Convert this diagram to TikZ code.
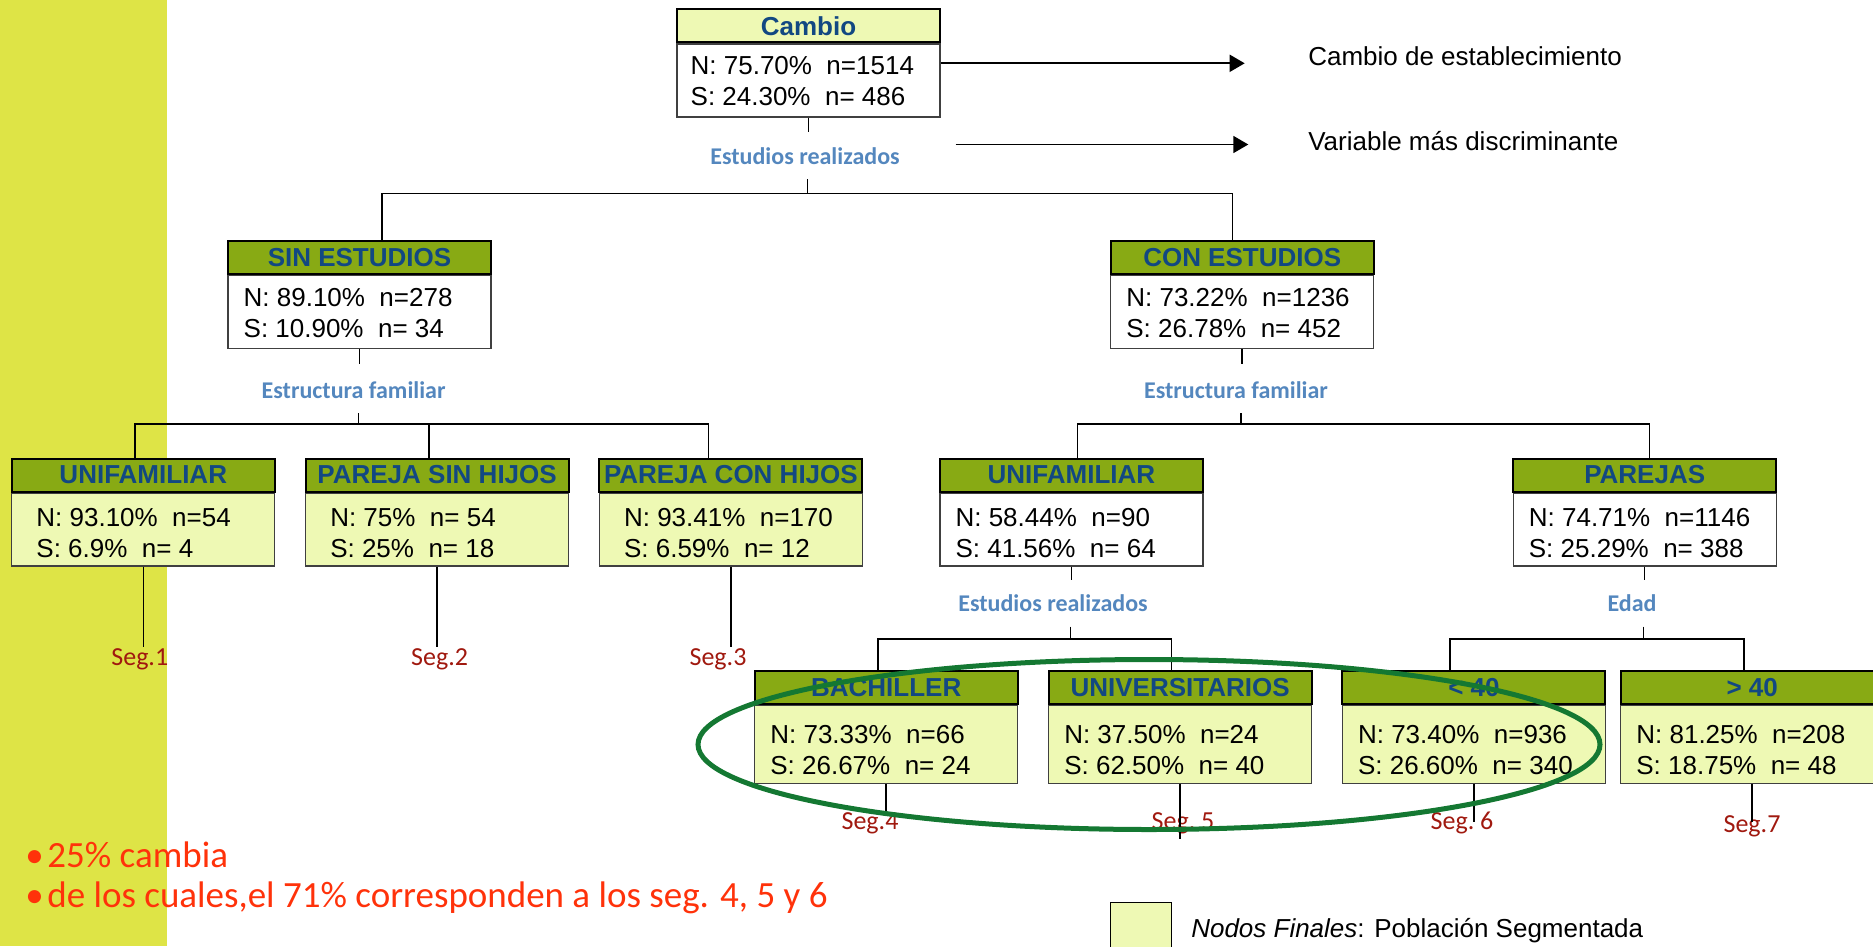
\documentclass[tikz,border=0pt]{standalone}
\usepackage{fontspec}
\setmainfont{Liberation Sans}
\newfontfamily\calibri{Carlito}
\usetikzlibrary{arrows.meta}

\definecolor{band}{RGB}{222,228,70}
\definecolor{olive}{RGB}{136,170,20}
\definecolor{pale}{RGB}{238,249,180}
\definecolor{hdtext}{RGB}{18,72,130}
\definecolor{varblue}{RGB}{84,135,190}
\definecolor{segred}{RGB}{160,25,15}
\definecolor{note}{RGB}{255,50,10}
\definecolor{ring}{RGB}{20,120,50}

% header strip + body + two lines of statistics
\newcommand{\treebox}[8]{%
  \node[hdr] (#1-h) at (#2,#3) {#4};
  \node[#7] (#1) at (#1-h.south) {};
  \node[stats] (#1-t) at ([shift={(#8)}]#1.west) {#5\\#6};
}

\begin{document}
\begin{tikzpicture}[x=0.75pt,y=-0.75pt,
  hdr/.style={draw=black, line width=1.5pt, fill=olive, minimum width=197.25pt,
    minimum height=24.75pt, inner sep=0pt, anchor=north west,
    font=\fontsize{19.5pt}{23pt}\selectfont\bfseries, text=hdtext},
  body/.style={draw=black!75, line width=0.9pt, fill=white, minimum width=197.25pt,
    minimum height=54.7pt, inner sep=0pt, anchor=north},
  bodytall/.style={body, minimum height=58.2pt},
  final/.style={body, fill=pale},
  finaltall/.style={bodytall, fill=pale},
  stats/.style={anchor=west, align=left, inner sep=0pt,
    font=\fontsize{19.5pt}{23.5pt}\selectfont},
  varlab/.style={font=\calibri\bfseries\fontsize{18pt}{20pt}\selectfont,
    text=varblue, inner sep=0pt},
  seglab/.style={font=\calibri\fontsize{19.5pt}{22pt}\selectfont,
    text=segred, inner sep=0pt},
  note/.style={font=\calibri\fontsize{27.75pt}{30pt}\selectfont,
    text=note, inner sep=0pt, anchor=west},
  plain/.style={font=\fontsize{19.5pt}{23pt}\selectfont, inner sep=0pt, anchor=west},
  link/.style={line width=1.1pt, black},
  pointer/.style={line width=1.3pt, -{Triangle[length=11.25pt, width=12.75pt]}}
]
\useasboundingbox (0,0) rectangle (1873,946);
\clip (0,0) rectangle (1873,946);

% left side band
\fill[band] (0,0) rectangle (167,946);

% ---- boxes ----
\treebox{cambio}{676}{8.4}{Cambio}{N: 75.70\%\ \ n=1514}{S: 24.30\%\ \ n=\ 486}{body}{14,0.6}
\path (cambio-h) node[hdr, anchor=center, fill=pale] {Cambio};

\treebox{sin}{227}{240.1}{SIN ESTUDIOS}{N: 89.10\%\ \ n=278}{S: 10.90\%\ \ n=\ 34}{body}{16,1.2}
\treebox{con}{1109.7}{240.1}{CON ESTUDIOS}{N: 73.22\%\ \ n=1236}{S: 26.78\%\ \ n=\ 452}{body}{16,1.2}

\treebox{unil}{10.75}{457.5}{UNIFAMILIAR}{N: 93.10\%\ \ n=54}{S: 6.9\%\ \ n=\ 4}{final}{25,3.6}
\treebox{psh}{304.6}{457.5}{PAREJA SIN HIJOS}{N: 75\%\ \ n=\ 54}{S: 25\%\ \ n=\ 18}{final}{25,3.6}
\treebox{pch}{598.4}{457.5}{PAREJA CON HIJOS}{N: 93.41\%\ \ n=170}{S: 6.59\%\ \ n=\ 12}{final}{25,3.6}
\treebox{unir}{938.9}{457.5}{UNIFAMILIAR}{N: 58.44\%\ \ n=90}{S: 41.56\%\ \ n=\ 64}{body}{16,3.6}
\treebox{parejas}{1512.2}{457.5}{PAREJAS}{N: 74.71\%\ \ n=1146}{S: 25.29\%\ \ n=\ 388}{body}{16,3.6}

\treebox{bach}{753.7}{670.1}{BACHILLER}{N: 73.33\%\ \ n=66}{S: 26.67\%\ \ n=\ 24}{finaltall}{16,5.6}
\treebox{univ}{1047.6}{670.1}{UNIVERSITARIOS}{N: 37.50\%\ \ n=24}{S: 62.50\%\ \ n=\ 40}{finaltall}{16,5.6}
\treebox{lt40}{1341.4}{670.1}{< 40}{N: 73.40\%\ \ n=936}{S: 26.60\%\ \ n=\ 340}{finaltall}{16,5.6}
\treebox{gt40}{1619.7}{670.1}{> 40}{N: 81.25\%\ \ n=208}{S: 18.75\%\ \ n=\ 48}{finaltall}{16,5.6}

% ---- splitting variables ----
\node[varlab] (v0) at (805,156.5) {Estudios realizados};
\node[varlab] (v1) at (353.6,390.6) {Estructura familiar};
\node[varlab] (v2) at (1236,390.6) {Estructura familiar};
\node[varlab] (v3) at (1053,603.2) {Estudios realizados};
\node[varlab] (v4) at (1632,603.2) {Edad};

% ---- connectors: root ----
\coordinate (j0) at (807.5,193.5);
\coordinate (d0a) at (382,193.5);
\coordinate (d0b) at (1232.7,193.5);
\draw[link] (cambio.south) -- ++(0,14.3);
\draw[link] (j0) ++(0,-14.5) -- (j0);
\draw[link] (d0a |- sin-h.north) -- (d0a) -- (d0b) -- (d0b |- con-h.north);

% ---- connectors: SIN ESTUDIOS ----
\coordinate (j1) at (358.4,424);
\coordinate (d1a) at (135,424);
\coordinate (d1b) at (428.8,424);
\coordinate (d1c) at (708.3,424);
\draw[link] (sin.south) -- ++(0,14.3);
\draw[link] (j1) ++(0,-10.7) -- (j1);
\draw[link] (d1a |- unil-h.north) -- (d1a) -- (d1c) -- (d1c |- pch-h.north);
\draw[link] (d1b) -- (d1b |- psh-h.north);

% ---- connectors: CON ESTUDIOS ----
\coordinate (j2) at (1241,424);
\coordinate (d2a) at (1077.4,424);
\coordinate (d2b) at (1649.6,424);
\draw[link] (con.south) -- ++(0,14.3);
\draw[link] (j2) ++(0,-10.7) -- (j2);
\draw[link] (d2a |- unir-h.north) -- (d2a) -- (d2b) -- (d2b |- parejas-h.north);

% ---- connectors: UNIFAMILIAR (right) ----
\coordinate (j3) at (1070.3,639);
\coordinate (d3a) at (878,639);
\coordinate (d3b) at (1171.5,639);
\draw[link] (unir.south) -- ++(0,13.3);
\draw[link] (j3) ++(0,-12.5) -- (j3);
\draw[link] (d3a |- bach-h.north) -- (d3a) -- (d3b) -- (d3b |- univ-h.north);

% ---- connectors: PAREJAS ----
\coordinate (j4) at (1643.6,639);
\coordinate (d4a) at (1450,639);
\coordinate (d4b) at (1744,639);
\draw[link] (parejas.south) -- ++(0,13.3);
\draw[link] (j4) ++(0,-12.5) -- (j4);
\draw[link] (d4a |- lt40-h.north) -- (d4a) -- (d4b) -- (d4b |- gt40-h.north);

% ---- segments ----
\node[seglab] (s1) at (139.8,659.4) {Seg.1};
\node[seglab] (s2) at (439.6,659.4) {Seg.2};
\node[seglab] (s3) at (718,659.4) {Seg.3};
\node[seglab] (s4) at (870,823) {Seg.4};
\node[seglab] (s5) at (1183,823) {Seg.\ 5};
\node[seglab] (s6) at (1462,823) {Seg.\ 6};
\node[seglab] (s7) at (1752,826.6) {Seg.7};
\draw[link] (unil.south) -- ++(0,80);
\draw[link] (psh.south) -- ++(0,80);
\draw[link] (pch.south) -- ++(0,80);
\draw[link] (bach.south) -- ++(0,32);
\draw[link] (univ.south) -- ++(0,55);
\draw[link] (lt40.south) -- ++(0,38);
\draw[link] (gt40.south) -- ++(0,38);

% ---- key on the right ----
\coordinate (a1) at (1244.7,63.3);
\coordinate (a2s) at (955.6,144.5);
\coordinate (a2) at (1248.3,144.5);
\draw[pointer] (cambio.east |- a1) -- (a1);
\draw[pointer] (a2s) -- (a2);
\node[plain] (k1) at (1308,56) {Cambio de establecimiento};
\node[plain] (k2) at (1308,141) {Variable más discriminante};

% ---- legend ----
\node[draw=black, line width=1.1pt, fill=pale, minimum width=45.7pt,
  minimum height=45pt, inner sep=0pt, anchor=north west] (lg) at (1109.7,901.8) {};
\node[plain] (lgt) at (1191,930.5) {\textit{Nodos Finales}: Población Segmentada};

% ---- notes ----
\node[note] (n1) at (25,855) {•\hspace{0.1em}25\% cambia};
\node[note] (n2) at (25,898) {•\hspace{0.1em}de los cuales,el 71\% corresponden a los seg. 4, 5 y 6};

% ---- highlight ring ----
\draw[ring, line width=3.75pt] (1149,744.5) ellipse [x radius=451, y radius=85];
\end{tikzpicture}
\end{document}
